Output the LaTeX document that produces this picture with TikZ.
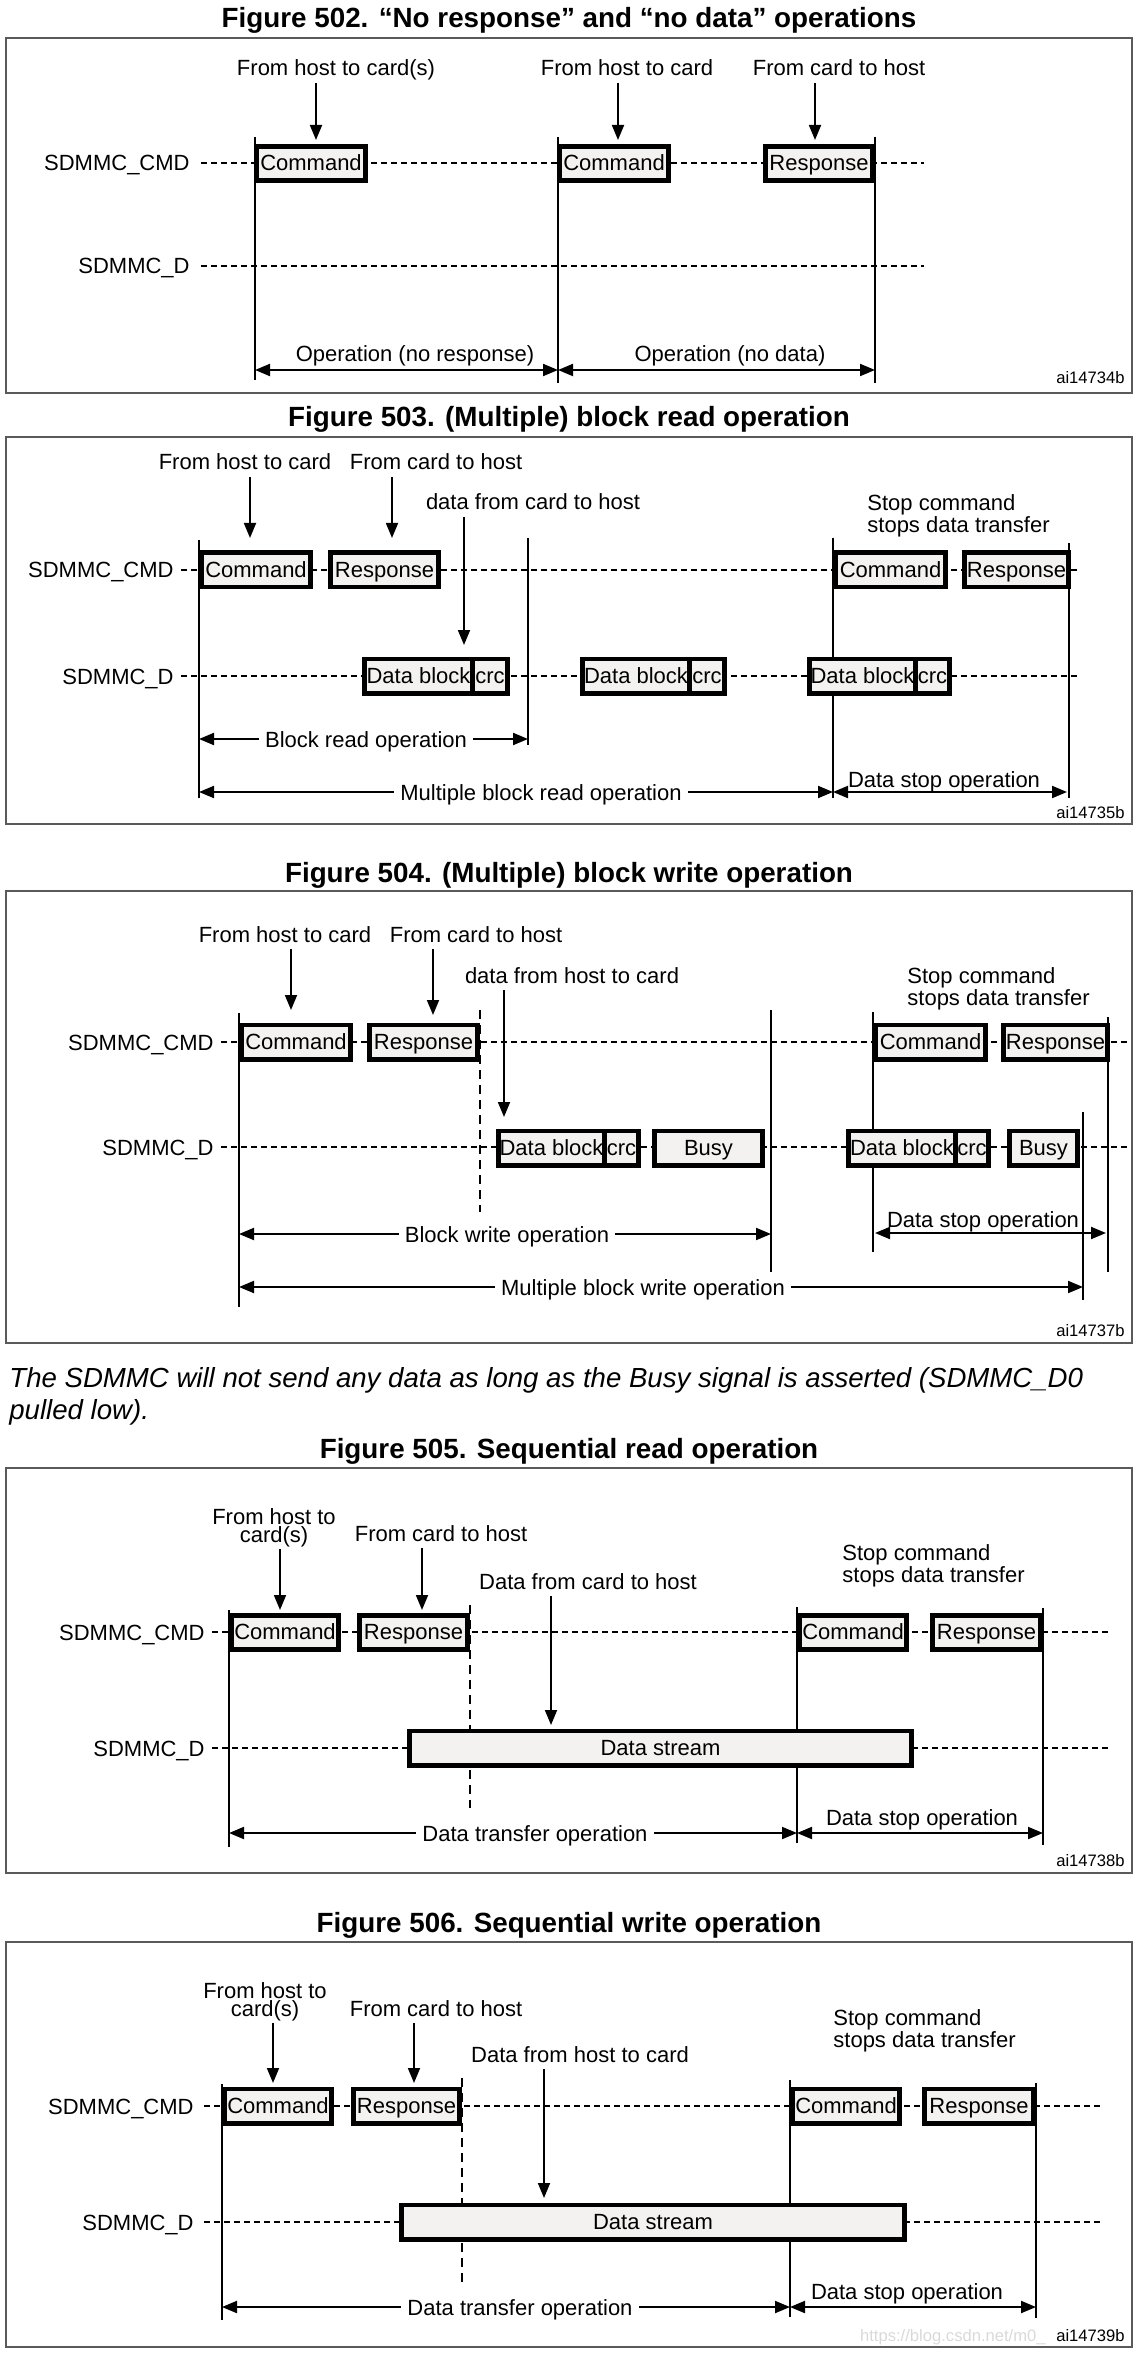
\documentclass[tikz,border=0pt]{standalone}
\usepackage{fontspec}
\setmainfont{Liberation Sans}
\usetikzlibrary{arrows.meta}
\definecolor{boxfill}{HTML}{F4F2F0}
\definecolor{framegray}{HTML}{5A5A5A}
\newcommand{\labfont}{\fontsize{11}{9}\selectfont}
\newcommand{\titlefont}{\fontsize{13.9}{16}\selectfont\bfseries}
\newcommand{\notefont}{\fontsize{13.8}{16}\selectfont\itshape}
\newcommand{\tagfont}{\fontsize{8.3}{10}\selectfont}
\tikzset{
  figtitle/.style = {anchor=base, inner sep=0pt, font=\titlefont},
  figframe/.style = {draw=framegray, line width=1pt},
  sname/.style = {anchor=base east, inner sep=0pt, font=\labfont},
  bus/.style = {line width=0.8pt, dash pattern=on 3pt off 2pt},
  vline/.style = {line width=0.8pt},
  vdash/.style = {line width=0.8pt, dash pattern=on 4.5pt off 3pt},
  sig/.style = {draw, line width=2.3pt, fill=boxfill, inner sep=0pt,
    outer sep=0pt, minimum height=17.2pt, text height=0.716em,
    text depth=0pt, font=\labfont},% signal box on a line
  wd/.style = {minimum width=#1*0.5pt-2.3pt},
  lbl/.style = {anchor=base, inner sep=1pt, text depth=0.25em, font=\labfont},
  lbltwo/.style = {anchor=north, inner sep=1pt, align=center, font=\labfont},
  stoplbl/.style = {anchor=north west, inner sep=1pt, align=left, font=\labfont},
  onlbl/.style = {lbl, fill=white, inner xsep=3pt},% label sitting on an arrow
  ptr/.style = {->, line width=0.9pt},
  span/.style = {<->, line width=1pt},
  tag/.style = {anchor=base east, inner sep=0pt, font=\tagfont}
}

\begin{document}
\begin{tikzpicture}[x=0.5pt, y=-0.5pt, >={Triangle[length=7.5pt,width=6pt]}]
\useasboundingbox (0,0) rectangle (1134,2353);

% Figure 502
\node[figtitle] (t502) at (569,28) {Figure 502. “No response” and “no data” operations};
\draw[figframe] (6,38) rectangle (1132,393);
\node[sname] (cmd502) at (190,171) {SDMMC\_CMD};
\node[sname] (d502) at (190,274) {SDMMC\_D};
\draw[bus] (201,163) -- (924,163);
\draw[bus] (201,266) -- (924,266);
\draw[vline] (255,137) -- (255,380);
\draw[vline] (558,137) -- (558,383);
\draw[vline] (875,137) -- (875,383);
\node[sig, wd=114] (c502a) at (311,163.5) {Command};
\node[sig, wd=114] (c502b) at (614,163.5) {Command};
\node[sig, wd=112] (r502) at (819,163.5) {Response};
\node[lbl] (l502a) at (336,76) {From host to card(s)};
\node[lbl] (l502b) at (627,76) {From host to card};
\node[lbl] (l502c) at (839,76) {From card to host};
\coordinate (p502a) at (316,140);
\coordinate (p502b) at (618,140);
\coordinate (p502c) at (815,140);
\draw[ptr] (l502a.south -| p502a) -- (p502a);
\draw[ptr] (l502b.south -| p502b) -- (p502b);
\draw[ptr] (l502c.south -| p502c) -- (p502c);
\coordinate (s502a) at (255,370);
\coordinate (s502b) at (558,370);
\coordinate (s502c) at (875,370);
\draw[span] (s502a) -- (s502b);
\draw[span] (s502b) -- (s502c);
\node[lbl] (o502a) at (415,362) {Operation (no response)};
\node[lbl] (o502b) at (730,362) {Operation (no data)};
\node[tag] (id502) at (1125,384) {ai14734b};

% Figure 503
\node[figtitle] (t503) at (569,427) {Figure 503. (Multiple) block read operation};
\draw[figframe] (6,437) rectangle (1132,824);
\node[sname] (cmd503) at (174,578) {SDMMC\_CMD};
\node[sname] (d503) at (174,684) {SDMMC\_D};
\draw[bus] (181,570) -- (1080,570);
\draw[bus] (181,676) -- (1080,676);
\draw[vline] (199,540) -- (199,798);
\draw[vline] (528,538) -- (528,745);
\draw[vline] (833,538) -- (833,798);
\draw[vline] (1069,543) -- (1069,798);
\node[sig, wd=114] (c503a) at (256,570) {Command};
\node[sig, wd=113] (r503a) at (384.5,570) {Response};
\node[sig, wd=115] (c503b) at (890.5,570) {Command};
\node[sig, wd=109] (r503b) at (1016.5,570) {Response};
\node[sig, wd=113] (db503a) at (418.5,676) {Data block};
\node[sig, wd=39.3, anchor=west] (crc503a) at (db503a.east) {crc};
\node[sig, wd=112] (db503b) at (636,676) {Data block};
\node[sig, wd=39.3, anchor=west] (crc503b) at (db503b.east) {crc};
\node[sig, wd=111] (db503c) at (862.5,676) {Data block};
\node[sig, wd=38.3, anchor=west] (crc503c) at (db503c.east) {crc};
\node[lbl] (l503a) at (245,470) {From host to card};
\node[lbl] (l503b) at (436,470) {From card to host};
\node[lbl] (l503c) at (533,510) {data from card to host};
\node[stoplbl] (l503d) at (865,492) {Stop command\\stops data transfer};
\coordinate (p503a) at (250,538);
\coordinate (p503b) at (392,538);
\coordinate (p503c) at (464,645);
\draw[ptr] (l503a.south -| p503a) -- (p503a);
\draw[ptr] (l503b.south -| p503b) -- (p503b);
\draw[ptr] (l503c.south -| p503c) -- (p503c);
\coordinate (s503a) at (199,739);
\coordinate (s503b) at (528,739);
\coordinate (s503c) at (199,792);
\coordinate (s503d) at (833,792);
\coordinate (s503e) at (1067,792);
\draw[span] (s503a) -- (s503b);
\draw[span] (s503c) -- (s503d);
\draw[span] (s503d) -- (s503e);
\node[onlbl] (o503a) at (366,747) {Block read operation};
\node[onlbl] (o503b) at (541,800) {Multiple block read operation};
\node[lbl] (o503c) at (944,787) {Data stop operation};
\node[tag] (id503) at (1125,818) {ai14735b};

% Figure 504
\node[figtitle] (t504) at (569,882) {Figure 504. (Multiple) block write operation};
\draw[figframe] (6,891) rectangle (1132,1343);
\node[sname] (cmd504) at (214,1050) {SDMMC\_CMD};
\node[sname] (d504) at (214,1155) {SDMMC\_D};
\draw[bus] (221,1042) -- (1127,1042);
\draw[bus] (221,1147) -- (1127,1147);
\draw[vline] (239,1013) -- (239,1307);
\draw[vdash] (480,1010) -- (480,1212);
\draw[vline] (771,1010) -- (771,1272);
\draw[vline] (873,1012) -- (873,1252);
\draw[vline] (1108,1017) -- (1108,1272);
\draw[vline] (1083,1112) -- (1083,1300);
\node[sig, wd=114] (c504a) at (296,1042) {Command};
\node[sig, wd=113] (r504a) at (423.5,1042) {Response};
\node[sig, wd=115] (c504b) at (930.5,1042) {Command};
\node[sig, wd=109] (r504b) at (1055.5,1042) {Response};
\node[sig, wd=111] (db504a) at (551.5,1148) {Data block};
\node[sig, wd=38.3, anchor=west] (crc504a) at (db504a.east) {crc};
\node[sig, wd=113] (b504a) at (708.5,1148) {Busy};
\node[sig, wd=112] (db504b) at (902,1148) {Data block};
\node[sig, wd=37.3, anchor=west] (crc504b) at (db504b.east) {crc};
\node[sig, wd=73] (b504b) at (1043.5,1148) {Busy};
\node[lbl] (l504a) at (285,942) {From host to card};
\node[lbl] (l504b) at (476,942) {From card to host};
\node[lbl] (l504c) at (572,983) {data from host to card};
\node[stoplbl] (l504d) at (905,965) {Stop command\\stops data transfer};
\coordinate (p504a) at (291,1010);
\coordinate (p504b) at (433,1015);
\coordinate (p504c) at (504,1117);
\draw[ptr] (l504a.south -| p504a) -- (p504a);
\draw[ptr] (l504b.south -| p504b) -- (p504b);
\draw[ptr] (l504c.south -| p504c) -- (p504c);
\coordinate (s504a) at (239,1234);
\coordinate (s504b) at (771,1234);
\coordinate (s504c) at (239,1287);
\coordinate (s504d) at (1083,1287);
\coordinate (s504e) at (875,1233);
\coordinate (s504f) at (1106,1233);
\draw[span] (s504a) -- (s504b);
\draw[span] (s504c) -- (s504d);
\draw[span] (s504e) -- (s504f);
\node[onlbl] (o504a) at (507,1242) {Block write operation};
\node[onlbl] (o504b) at (643,1295) {Multiple block write operation};
\node[lbl] (o504c) at (983,1227) {Data stop operation};
\node[tag] (id504) at (1125,1336) {ai14737b};

% note between the figures
\node[anchor=north west, inner sep=0pt, align=left, font=\notefont] (note) at (9,1367)
  {The SDMMC will not send any data as long as the Busy signal is asserted (SDMMC\_D0\\pulled low).};

% Figure 505
\node[figtitle] (t505) at (569,1458) {Figure 505. Sequential read operation};
\draw[figframe] (6,1468) rectangle (1132,1873);
\node[sname] (cmd505) at (205,1640) {SDMMC\_CMD};
\node[sname] (d505) at (205,1756) {SDMMC\_D};
\draw[bus] (212,1632) -- (1110,1632);
\draw[bus] (212,1748) -- (1110,1748);
\draw[vline] (229,1610) -- (229,1847);
\draw[vdash] (470,1605) -- (470,1808);
\draw[vline] (797,1607) -- (797,1843);
\draw[vline] (1043,1608) -- (1043,1845);
\node[sig, wd=112] (c505a) at (285,1632.5) {Command};
\node[sig, wd=113] (r505a) at (413.5,1632.5) {Response};
\node[sig, wd=112] (c505b) at (853,1632.5) {Command};
\node[sig, wd=113] (r505b) at (986.5,1632.5) {Response};
\node[sig, wd=507] (ds505) at (660.5,1748) {Data stream};
\node[lbltwo] (l505a) at (274,1506) {From host to\\card(s)};
\node[lbl] (l505b) at (441,1541) {From card to host};
\node[lbl] (l505c) at (588,1589) {Data from card to host};
\node[stoplbl] (l505d) at (840,1542) {Stop command\\stops data transfer};
\coordinate (p505a) at (280,1610);
\coordinate (p505b) at (422,1610);
\coordinate (p505c) at (551,1725);
\draw[ptr] (l505a.south -| p505a) -- (p505a);
\draw[ptr] (l505b.south -| p505b) -- (p505b);
\draw[ptr] (l505c.south -| p505c) -- (p505c);
\coordinate (s505a) at (229,1833);
\coordinate (s505b) at (797,1833);
\coordinate (s505c) at (1043,1833);
\draw[span] (s505a) -- (s505b);
\draw[span] (s505b) -- (s505c);
\node[onlbl] (o505a) at (535,1841) {Data transfer operation};
\node[lbl] (o505b) at (922,1825) {Data stop operation};
\node[tag] (id505) at (1125,1866) {ai14738b};

% Figure 506
\node[figtitle] (t506) at (569,1932) {Figure 506. Sequential write operation};
\draw[figframe] (6,1942) rectangle (1132,2347);
\node[sname] (cmd506) at (194,2114) {SDMMC\_CMD};
\node[sname] (d506) at (194,2230) {SDMMC\_D};
\draw[bus] (204,2106) -- (1103,2106);
\draw[bus] (204,2222) -- (1103,2222);
\draw[vline] (222,2084) -- (222,2320);
\draw[vdash] (462,2078) -- (462,2282);
\draw[vline] (790,2080) -- (790,2317);
\draw[vline] (1036,2083) -- (1036,2318);
\node[sig, wd=112] (c506a) at (278,2106) {Command};
\node[sig, wd=111] (r506a) at (406.5,2106) {Response};
\node[sig, wd=112] (c506b) at (846,2106) {Command};
\node[sig, wd=114] (r506b) at (979,2106) {Response};
\node[sig, wd=508] (ds506) at (653,2222) {Data stream};
\node[lbltwo] (l506a) at (265,1980) {From host to\\card(s)};
\node[lbl] (l506b) at (436,2016) {From card to host};
\node[lbl] (l506c) at (580,2062) {Data from host to card};
\node[stoplbl] (l506d) at (831,2007) {Stop command\\stops data transfer};
\coordinate (p506a) at (273,2083);
\coordinate (p506b) at (414,2083);
\coordinate (p506c) at (544,2198);
\draw[ptr] (l506a.south -| p506a) -- (p506a);
\draw[ptr] (l506b.south -| p506b) -- (p506b);
\draw[ptr] (l506c.south -| p506c) -- (p506c);
\coordinate (s506a) at (222,2307);
\coordinate (s506b) at (790,2307);
\coordinate (s506c) at (1036,2307);
\draw[span] (s506a) -- (s506b);
\draw[span] (s506b) -- (s506c);
\node[onlbl] (o506a) at (520,2315) {Data transfer operation};
\node[lbl] (o506b) at (907,2299) {Data stop operation};
\node[tag, text=black!15] (wm506) at (1046,2341) {https://blog.csdn.net/m0\_};
\node[tag] (id506) at (1125,2341) {ai14739b};

\end{tikzpicture}
\end{document}
